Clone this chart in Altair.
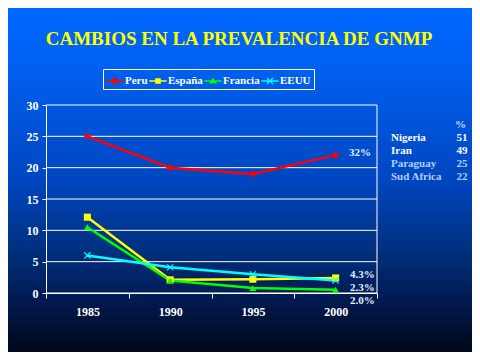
import altair as alt
import pandas as pd

years = ["1985", "1990", "1995", "2000"]
series = ["Peru", "España", "Francia", "EEUU"]
peru = [25, 20, 19, 22]
espana = [12.1, 2.1, 2.2, 2.4]
francia = [10.5, 2.0, 0.8, 0.5]
eeuu = [6.0, 4.1, 3.0, 2.0]
colors = ["#ff0000", "#ffff00", "#00ff00", "#00ffff"]
y_ticks = [0, 5, 10, 15, 20, 25, 30]

title_text = "CAMBIOS EN LA PREVALENCIA DE  GNMP"
end_labels = ["32%", "4.3%", "2.3%", "2.0%"]
table_countries = ["Nigeria", "Iran", "Paraguay", "Sud Africa"]
table_values = ["51", "49", "25", "22"]
table_header = "%"

rows = []
for s, vals in zip(series, [peru, espana, francia, eeuu]):
    for yr, v in zip(years, vals):
        rows.append({"year": yr, "series": s, "value": v})
df = pd.DataFrame(rows)

W, H = 331, 188
PL, PT, PR, PB = 38, 97, 95, 59
FONT = "Liberation Serif"

xpath = "M-1,-0.78L-0.78,-1L1,0.78L0.78,1Z M0.78,-1L1,-0.78L-0.78,1L-1,0.78Z"
leg_shapes = [
    "M-1,-0.08H-0.37L0,-0.45L0.37,-0.08H1V0.08H0.37L0,0.45L-0.37,0.08H-1Z",
    "M-1,-0.08H-0.33V-0.33H0.33V-0.08H1V0.08H0.33V0.33H-0.33V0.08H-1Z",
    "M-1,-0.08H-0.206L0,-0.4L0.206,-0.08H1V0.08H0.309L0.45,0.3H-0.45L-0.309,0.08H-1Z",
    "M-1,-0.08H1V0.08H-1Z M-0.4,-0.3L-0.3,-0.4L0.4,0.3L0.3,0.4Z M0.3,-0.4L0.4,-0.3L-0.3,0.4L-0.4,0.3Z",
]

one = pd.DataFrame({"k": [0]})

gradient = alt.LinearGradient(
    gradient="linear",
    stops=[
        alt.GradientStop(color="#0066ff", offset=0),
        alt.GradientStop(color="#0062f4", offset=0.15),
        alt.GradientStop(color="#0046c0", offset=0.5),
        alt.GradientStop(color="#003080", offset=0.7),
        alt.GradientStop(color="#001a50", offset=0.85),
        alt.GradientStop(color="#000818", offset=1),
    ],
    x1=0, x2=0, y1=0, y2=1,
)

bg = alt.Chart(one).mark_rect(color=gradient).encode(
    x=alt.value(-PL), x2=alt.value(W + PR), y=alt.value(-PT), y2=alt.value(H + PB)
)

yscale = alt.Scale(domain=[0, 30], nice=False)
xscale = alt.Scale(type="band", domain=years, paddingInner=0, paddingOuter=0)
yaxis = alt.Axis(title=None, values=y_ticks, grid=False, tickSize=4, labelPadding=4, zindex=1)

grid = alt.Chart(pd.DataFrame({"t": y_ticks})).mark_rule(color="white", strokeWidth=1).encode(
    y=alt.Y("t:Q", scale=yscale, axis=yaxis)
)
border = alt.Chart(one).mark_rule(color="white", strokeWidth=1).encode(
    x=alt.value(W), y=alt.value(0), y2=alt.value(H)
)

base = alt.Chart(df)
xenc = alt.X("year:N", scale=xscale, sort=years,
             axis=alt.Axis(title=None, labelAngle=0, tickBand="extent", grid=False,
                           tickSize=5, labelPadding=8, zindex=1))
yenc = alt.Y("value:Q", scale=yscale, axis=yaxis)

lines = base.mark_line(strokeWidth=2.5).encode(
    x=xenc, y=yenc,
    color=alt.Color("series:N", scale=alt.Scale(domain=series, range=colors), legend=None),
)
points = base.mark_point(filled=True, size=50, opacity=1).encode(
    x=xenc, y=yenc,
    color=alt.Color("series:N", scale=alt.Scale(domain=series, range=colors), legend=None),
    shape=alt.Shape("series:N", scale=alt.Scale(domain=series,
                    range=["diamond", "square", "triangle-up", xpath]), legend=None),
)

leg = alt.Legend(orient="none", legendX=57, legendY=-36, direction="horizontal", columns=4,
                 title=None, strokeColor="white", padding=3, labelColor="white",
                 labelFont=FONT, labelFontWeight="bold", labelFontSize=11,
                 symbolSize=300, symbolStrokeWidth=0, symbolOpacity=1,
                 columnPadding=1, labelOffset=1)
legend_layer = base.mark_point(filled=True, size=50, opacity=1).encode(
    color=alt.Color("series:N", scale=alt.Scale(domain=series, range=colors), legend=leg),
    shape=alt.Shape("series:N", scale=alt.Scale(domain=series, range=leg_shapes), legend=leg),
).transform_filter("false")

texts = []
texts.append(alt.Chart(one).mark_text(text=title_text, font=FONT, fontWeight="bold", fontSize=19,
                                      color="#ffff00", align="center", baseline="alphabetic")
             .encode(x=alt.value(193), y=alt.value(-60)))

ann_pos = [(303, 51), (304, 173), (304, 186), (304, 199)]
for lab, (px, py) in zip(end_labels, ann_pos):
    texts.append(alt.Chart(one).mark_text(text=lab, font=FONT, fontWeight="bold", fontSize=11,
                                          color="#e4eeff", align="left", baseline="alphabetic")
                 .encode(x=alt.value(px), y=alt.value(py)))

texts.append(alt.Chart(one).mark_text(text=table_header, font=FONT, fontWeight="bold", fontSize=11,
                                      color="#c8dcff", align="right", baseline="alphabetic")
             .encode(x=alt.value(420), y=alt.value(23)))
for i, (c, v) in enumerate(zip(table_countries, table_values)):
    col = "white" if i < 2 else "#b4d0ff"
    yy = 35.5 + i * 13.1
    texts.append(alt.Chart(one).mark_text(text=c, font=FONT, fontWeight="bold", fontSize=11,
                                          color=col, align="left", baseline="alphabetic")
                 .encode(x=alt.value(345), y=alt.value(yy)))
    texts.append(alt.Chart(one).mark_text(text=v, font=FONT, fontWeight="bold", fontSize=11,
                                          color=col, align="right", baseline="alphabetic")
                 .encode(x=alt.value(421.5), y=alt.value(yy)))

chart = alt.layer(bg, grid, border, lines, points, legend_layer, *texts).resolve_scale(
    color="independent", shape="independent"
).properties(
    width=W, height=H,
    autosize=alt.AutoSizeParams(type="none"),
    padding={"left": PL, "top": PT, "right": PR, "bottom": PB},
    background="#0046c0",
).configure_axis(
    labelFont=FONT, labelFontWeight="bold", labelFontSize=12, labelColor="white",
    domainColor="white", tickColor="white", domainWidth=1, tickWidth=1,
).configure_view(stroke=None)

chart.save("out.html", embed_options={"renderer": "svg", "actions": False})
